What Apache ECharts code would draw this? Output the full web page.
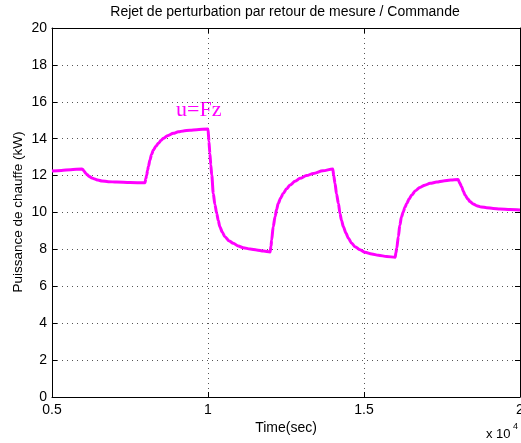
<!DOCTYPE html>
<html>
<head>
<meta charset="utf-8">
<script src="https://cdn.jsdelivr.net/npm/echarts@6/dist/echarts.min.js"></script>
<style>
  html, body { margin: 0; padding: 0; background: #fff; }
  #chart { width: 521px; height: 443px; }
</style>
</head>
<body>
<div id="chart"></div>
<script>
// Time stamps (s) and heater power (kW) of the disturbance-rejection run
var timeSec = [
  5000, 5300, 5600, 5960,
  5990, 6030, 6080, 6130, 6200, 6280, 6370, 6470, 6600, 6800, 7070, 7500, 7980,
  8010, 8035, 8065, 8090, 8140, 8190, 8250, 8330, 8410, 8490, 8570, 8700, 8890, 9050, 9210, 9420, 9640, 10000,
  10030, 10060, 10090, 10120, 10170, 10220, 10280, 10330, 10380, 10460, 10540, 10670, 10810, 10970, 11130, 11350, 11560, 11780, 11990,
  12020, 12040, 12090, 12150, 12200, 12250, 12330, 12410, 12520, 12630, 12790, 12950, 13160, 13380, 13680, 14000,
  14030, 14070, 14120, 14180, 14230, 14280, 14340, 14420, 14500, 14600, 14710, 14870, 15030, 15250, 15460, 15730, 16000,
  16020, 16050, 16100, 16150, 16200, 16260, 16310, 16370, 16450, 16530, 16650, 16790, 16950, 17120, 17330, 17540, 17780, 18020,
  18060, 18130, 18180, 18240, 18320, 18400, 18500, 18610, 18760, 18930, 19140, 19360, 19680, 20000
];
var powerKW = [
  12.25, 12.28, 12.32, 12.36,
  12.33, 12.24, 12.13, 12.04, 11.95, 11.87, 11.81, 11.76, 11.71, 11.67, 11.65, 11.62, 11.61,
  11.85, 12.03, 12.30, 12.50, 12.85, 13.14, 13.39, 13.59, 13.75, 13.90, 14.02, 14.16, 14.29, 14.37, 14.42, 14.46, 14.49, 14.53,
  13.85, 13.20, 12.58, 12.03, 11.03, 10.44, 9.95, 9.56, 9.23, 8.93, 8.69, 8.47, 8.33, 8.19, 8.09, 8.02, 7.97, 7.91, 7.86,
  8.18, 8.51, 9.23, 9.77, 10.17, 10.49, 10.79, 11.03, 11.29, 11.49, 11.69, 11.85, 12.00, 12.12, 12.26, 12.36,
  12.00, 11.58, 11.00, 10.49, 9.95, 9.57, 9.23, 8.89, 8.60, 8.35, 8.15, 7.98, 7.84, 7.75, 7.68, 7.62, 7.57,
  7.80, 8.06, 8.69, 9.32, 9.75, 10.04, 10.28, 10.49, 10.74, 10.95, 11.18, 11.36, 11.48, 11.58, 11.65, 11.71, 11.76, 11.79,
  11.62, 11.40, 11.17, 10.95, 10.75, 10.59, 10.46, 10.37, 10.30, 10.26, 10.22, 10.19, 10.16, 10.14
];
var xTicks = [5000, 10000, 15000, 20000];
var yTicks = [0, 2, 4, 6, 8, 10, 12, 14, 16, 18, 20];

var titleText = 'Rejet de perturbation par retour de mesure / Commande';
var yName = 'Puissance de chauffe (kW)';
var xName = 'Time(sec)';
var curveLabel = 'u=Fz';

var font = '"Liberation Sans", Arial, Helvetica, sans-serif';
var gridDots = { color: '#555', width: 1, type: [1, 4] };

var chart = echarts.init(document.getElementById('chart'), null, { renderer: 'canvas' });

var points = timeSec.map(function (t, i) { return [t, powerKW[i]]; });

var tickStyle = { show: true, inside: true, length: 5, lineStyle: { color: '#000' } };
var frameLine = { show: true, onZero: false, lineStyle: { color: '#000', width: 1 } };

chart.setOption({
  animation: false,
  backgroundColor: '#fff',
  grid: { left: 52, right: 1, top: 28, bottom: 46, containLabel: false, outerBoundsMode: 'none' },
  xAxis: [{
    type: 'value', min: xTicks[0], max: xTicks[xTicks.length - 1], interval: 5000,
    axisLine: frameLine,
    axisTick: tickStyle,
    axisLabel: {
      color: '#000', fontFamily: font, fontSize: 14, margin: 6,
      formatter: function (v) { return String(v / 10000); }
    },
    splitLine: { show: true, lineStyle: gridDots }
  }, {
    type: 'value', position: 'top', min: xTicks[0], max: xTicks[xTicks.length - 1], interval: 5000,
    axisLine: frameLine, axisTick: tickStyle,
    axisLabel: { show: false }, splitLine: { show: false }
  }],
  yAxis: [{
    type: 'value', min: yTicks[0], max: yTicks[yTicks.length - 1], interval: 2,
    axisLine: frameLine,
    axisTick: tickStyle,
    axisLabel: { color: '#000', fontFamily: font, fontSize: 14, margin: 5 },
    splitLine: { show: true, lineStyle: gridDots }
  }, {
    type: 'value', position: 'right', min: yTicks[0], max: yTicks[yTicks.length - 1], interval: 2,
    axisLine: frameLine, axisTick: tickStyle,
    axisLabel: { show: false }, splitLine: { show: false }
  }],
  series: [{
    type: 'line',
    data: points,
    showSymbol: false,
    smooth: 0.3,
    smoothMonotone: 'x',
    lineStyle: { color: '#ff00ff', width: 3 },
    clip: true
  }],
  graphic: [
    {
      type: 'text', x: 285, y: 12,
      style: { text: titleText, font: '14px ' + font, fill: '#000', align: 'center', verticalAlign: 'middle' }
    },
    {
      type: 'text', x: 18, y: 212, rotation: Math.PI / 2,
      style: { text: yName, font: '13.5px ' + font, fill: '#000', align: 'center', verticalAlign: 'middle' }
    },
    {
      type: 'text', x: 286, y: 428,
      style: { text: xName, font: '14px ' + font, fill: '#000', align: 'center', verticalAlign: 'middle' }
    },
    {
      type: 'text', x: 486, y: 434,
      style: { text: 'x 10', font: '13px ' + font, fill: '#000', align: 'left', verticalAlign: 'middle' }
    },
    {
      type: 'text', x: 513, y: 427,
      style: { text: '4', font: '9px ' + font, fill: '#000', align: 'left', verticalAlign: 'middle' }
    },
    {
      type: 'text', x: 176, y: 110,
      style: { text: curveLabel, font: '22px "Liberation Serif", "Times New Roman", serif', fill: '#ff00ff', align: 'left', verticalAlign: 'middle' }
    }
  ]
});
</script>
</body>
</html>
